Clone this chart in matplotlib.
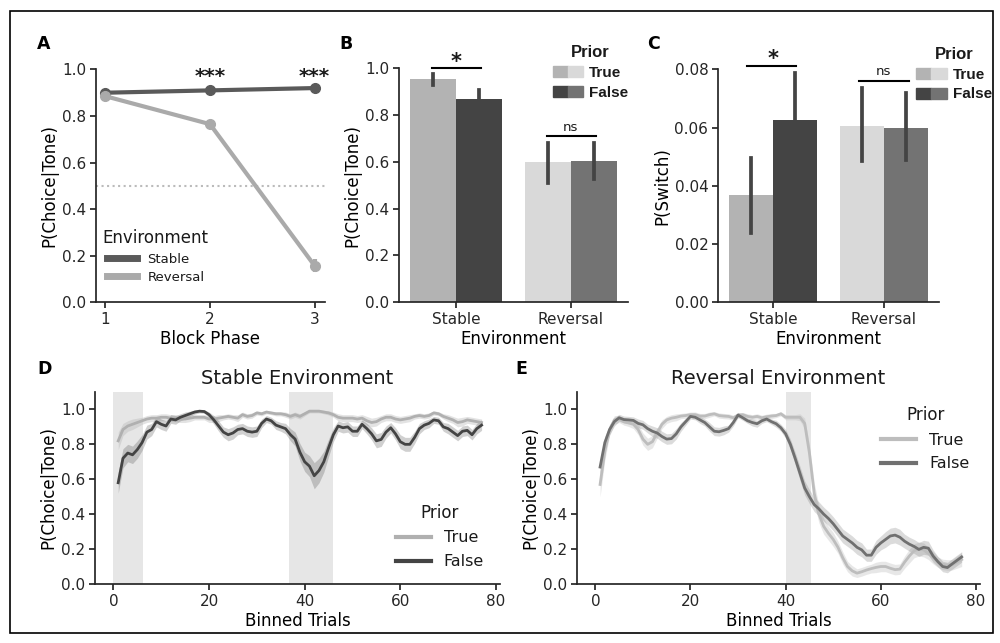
import numpy as np
import matplotlib
matplotlib.use("Agg")
import matplotlib.pyplot as plt
from matplotlib.patches import Patch, Rectangle
from matplotlib.lines import Line2D
from matplotlib.legend_handler import HandlerTuple

# ---------------- data ----------------
# panel A: choice accuracy by block phase
phases = [1, 2, 3]
stable_acc = [0.900, 0.910, 0.920]
stable_err = [0.008, 0.010, 0.008]
reversal_acc = [0.885, 0.765, 0.157]
reversal_err = [0.012, 0.015, 0.028]

# panel B / C: bars by environment and prior
envs = ["Stable", "Reversal"]
choice_true = [0.952, 0.600]
choice_true_ci = [(0.930, 0.975), (0.510, 0.680)]
choice_false = [0.867, 0.604]
choice_false_ci = [(0.830, 0.905), (0.525, 0.680)]
switch_true = [0.0368, 0.0604]
switch_true_ci = [(0.0238, 0.0497), (0.0485, 0.0735)]
switch_false = [0.0625, 0.0600]
switch_false_ci = [(0.0475, 0.0787), (0.0490, 0.0720)]

# panel D / E: binned trial curves
trials = np.arange(1, 78)
stable_true = [0.82, 0.885, 0.905, 0.915, 0.925, 0.935, 0.945, 0.95, 0.95, 0.955,
               0.955, 0.95, 0.95, 0.945, 0.945, 0.95, 0.955, 0.955, 0.955, 0.945,
               0.945, 0.95, 0.955, 0.96, 0.955, 0.95, 0.97, 0.96, 0.965, 0.98,
               0.975, 0.985, 0.98, 0.975, 0.975, 0.97, 0.96, 0.97, 0.96, 0.975,
               0.99, 0.99, 0.99, 0.985, 0.98, 0.97, 0.955, 0.95, 0.95, 0.95,
               0.945, 0.95, 0.935, 0.925, 0.93, 0.945, 0.955, 0.955, 0.945, 0.94,
               0.945, 0.95, 0.96, 0.965, 0.96, 0.965, 0.98, 0.975, 0.96, 0.95,
               0.94, 0.925, 0.93, 0.94, 0.935, 0.93, 0.925]
stable_true_ci = [0.05, 0.035, 0.03, 0.03, 0.025, 0.02, 0.02, 0.02, 0.02, 0.02,
                  0.02, 0.02, 0.02, 0.02, 0.02, 0.02, 0.015, 0.015, 0.015, 0.02,
                  0.02, 0.02, 0.015, 0.015, 0.015, 0.02, 0.015, 0.015, 0.015, 0.012,
                  0.012, 0.01, 0.01, 0.012, 0.012, 0.015, 0.015, 0.015, 0.015, 0.012,
                  0.01, 0.01, 0.01, 0.01, 0.012, 0.015, 0.02, 0.02, 0.02, 0.02,
                  0.02, 0.02, 0.025, 0.025, 0.025, 0.02, 0.02, 0.02, 0.02, 0.02,
                  0.02, 0.02, 0.015, 0.015, 0.015, 0.015, 0.012, 0.012, 0.015, 0.02,
                  0.02, 0.025, 0.025, 0.02, 0.02, 0.02, 0.02]
stable_false = [0.58, 0.72, 0.75, 0.74, 0.77, 0.81, 0.87, 0.885, 0.93, 0.915,
                0.905, 0.945, 0.94, 0.955, 0.965, 0.975, 0.985, 0.99, 0.988, 0.97,
                0.94, 0.905, 0.87, 0.855, 0.865, 0.885, 0.89, 0.875, 0.87, 0.875,
                0.92, 0.945, 0.935, 0.91, 0.90, 0.89, 0.856, 0.83, 0.755, 0.70,
                0.675, 0.62, 0.65, 0.70, 0.78, 0.855, 0.905, 0.895, 0.90, 0.875,
                0.875, 0.915, 0.89, 0.86, 0.82, 0.828, 0.87, 0.895, 0.86, 0.815,
                0.80, 0.80, 0.84, 0.89, 0.91, 0.92, 0.94, 0.935, 0.90, 0.89,
                0.87, 0.85, 0.875, 0.88, 0.855, 0.89, 0.91]
stable_false_ci = [0.06, 0.055, 0.05, 0.05, 0.05, 0.045, 0.04, 0.035, 0.03, 0.03,
                   0.03, 0.025, 0.025, 0.02, 0.02, 0.015, 0.012, 0.01, 0.01, 0.015,
                   0.025, 0.03, 0.03, 0.035, 0.035, 0.03, 0.03, 0.03, 0.03, 0.03,
                   0.025, 0.02, 0.02, 0.025, 0.025, 0.03, 0.035, 0.04, 0.05, 0.055,
                   0.06, 0.075, 0.07, 0.06, 0.05, 0.04, 0.03, 0.03, 0.03, 0.03,
                   0.03, 0.025, 0.03, 0.035, 0.04, 0.04, 0.035, 0.03, 0.035, 0.04,
                   0.04, 0.04, 0.035, 0.03, 0.025, 0.025, 0.02, 0.02, 0.025, 0.03,
                   0.03, 0.03, 0.03, 0.03, 0.03, 0.03, 0.03]
reversal_true = [0.57, 0.76, 0.88, 0.94, 0.945, 0.93, 0.922, 0.915, 0.885, 0.83,
                 0.80, 0.815, 0.865, 0.915, 0.94, 0.95, 0.955, 0.962, 0.965, 0.97,
                 0.97, 0.962, 0.962, 0.97, 0.975, 0.965, 0.962, 0.96, 0.952, 0.967,
                 0.97, 0.96, 0.955, 0.96, 0.952, 0.958, 0.962, 0.965, 0.975, 0.955,
                 0.955, 0.955, 0.955, 0.92, 0.75, 0.52, 0.40, 0.33, 0.29, 0.255,
                 0.21, 0.15, 0.10, 0.075, 0.062, 0.07, 0.08, 0.088, 0.095, 0.10,
                 0.10, 0.09, 0.082, 0.085, 0.125, 0.16, 0.19, 0.20, 0.195, 0.175,
                 0.15, 0.125, 0.112, 0.109, 0.11, 0.125, 0.14]
reversal_true_ci = [0.07, 0.05, 0.03, 0.025, 0.02, 0.02, 0.02, 0.025, 0.03, 0.035,
                    0.035, 0.035, 0.03, 0.025, 0.02, 0.02, 0.02, 0.015, 0.015, 0.015,
                    0.015, 0.015, 0.015, 0.015, 0.012, 0.015, 0.015, 0.015, 0.015, 0.015,
                    0.012, 0.015, 0.015, 0.015, 0.015, 0.015, 0.015, 0.012, 0.012, 0.015,
                    0.015, 0.015, 0.02, 0.03, 0.05, 0.06, 0.05, 0.045, 0.04, 0.04,
                    0.035, 0.035, 0.03, 0.03, 0.025, 0.025, 0.025, 0.025, 0.03, 0.03,
                    0.03, 0.03, 0.03, 0.03, 0.035, 0.04, 0.04, 0.04, 0.04, 0.035,
                    0.035, 0.03, 0.03, 0.03, 0.03, 0.035, 0.04]
reversal_false = [0.67, 0.81, 0.885, 0.93, 0.952, 0.942, 0.94, 0.937, 0.92, 0.912,
                  0.89, 0.875, 0.865, 0.845, 0.83, 0.833, 0.86, 0.90, 0.93, 0.96,
                  0.955, 0.94, 0.925, 0.90, 0.875, 0.872, 0.88, 0.89, 0.925, 0.968,
                  0.952, 0.935, 0.925, 0.918, 0.935, 0.945, 0.93, 0.918, 0.895, 0.86,
                  0.80, 0.72, 0.635, 0.55, 0.50, 0.455, 0.43, 0.40, 0.375, 0.345,
                  0.31, 0.275, 0.255, 0.235, 0.21, 0.195, 0.165, 0.165, 0.21, 0.235,
                  0.255, 0.275, 0.28, 0.268, 0.245, 0.228, 0.215, 0.198, 0.21, 0.205,
                  0.16, 0.128, 0.10, 0.094, 0.115, 0.135, 0.155]
reversal_false_ci = [0.04, 0.035, 0.03, 0.025, 0.02, 0.02, 0.02, 0.02, 0.025, 0.025,
                     0.025, 0.03, 0.03, 0.03, 0.03, 0.03, 0.03, 0.025, 0.02, 0.015,
                     0.015, 0.02, 0.02, 0.025, 0.025, 0.025, 0.025, 0.02, 0.02, 0.015,
                     0.015, 0.015, 0.02, 0.02, 0.015, 0.015, 0.015, 0.02, 0.02, 0.025,
                     0.03, 0.035, 0.04, 0.04, 0.04, 0.04, 0.04, 0.04, 0.04, 0.04,
                     0.04, 0.04, 0.04, 0.04, 0.04, 0.04, 0.035, 0.035, 0.04, 0.04,
                     0.045, 0.045, 0.045, 0.045, 0.04, 0.04, 0.04, 0.04, 0.04, 0.04,
                     0.035, 0.03, 0.03, 0.03, 0.03, 0.03, 0.03]
stable_spans = [(0, 6.2), (36.7, 46.0)]
reversal_spans = [(40.0, 45.3)]

# ---------------- style ----------------
plt.rcParams.update({
    "font.family": "DejaVu Sans",
    "axes.linewidth": 1.25,
    "xtick.major.width": 1.25,
    "ytick.major.width": 1.25,
    "xtick.major.size": 4.5,
    "ytick.major.size": 4.5,
    "xtick.major.pad": 2.5,
    "ytick.major.pad": 2.5,
    "xtick.labelsize": 11,
    "ytick.labelsize": 11,
    "axes.labelsize": 12,
    "axes.labelpad": 2.5,
    "axes.edgecolor": "#262626",
    "text.color": "#1a1a1a",
    "xtick.color": "#262626",
    "ytick.color": "#262626",
})

C_ST = "#b3b3b3"
C_SF = "#444444"
C_RT = "#d9d9d9"
C_RF = "#737373"
ERR = "#444444"
SPAN = "#e6e6e6"
leg_text = {"family": ["Liberation Sans", "DejaVu Sans"], "weight": "bold", "size": 11}
leg_title = {"family": ["Liberation Sans", "DejaVu Sans"], "weight": "bold", "size": 12}

fig = plt.figure(figsize=(10, 6.43), dpi=100)
fig.patches.append(Rectangle((0.010, 0.016), 0.983, 0.967, transform=fig.transFigure,
                             fill=False, edgecolor="black", linewidth=1.2))

axA = fig.add_axes([0.096, 0.530, 0.229, 0.362])
axB = fig.add_axes([0.399, 0.530, 0.229, 0.364])
axC = fig.add_axes([0.718, 0.530, 0.221, 0.362])
axD = fig.add_axes([0.095, 0.0918, 0.405, 0.2986])
axE = fig.add_axes([0.577, 0.0918, 0.403, 0.2986])

for ax in (axA, axB, axC, axD, axE):
    ax.spines["top"].set_visible(False)
    ax.spines["right"].set_visible(False)

# ---- A ----
axA.axhline(0.5, color="#bbbbbb", linestyle=":", linewidth=1.5)
axA.errorbar(phases, stable_acc, yerr=stable_err, color="#5a5a5a", marker="o", ms=7,
             lw=3, elinewidth=3, capsize=0)
axA.errorbar(phases, reversal_acc, yerr=reversal_err, color="#aaaaaa", marker="o", ms=7,
             lw=3, elinewidth=3, capsize=0)
for x in (2, 3):
    axA.text(x, 0.93, "***", ha="center", va="bottom", fontsize=14.5, fontweight="bold",
             clip_on=False)
axA.set_xlim(0.91, 3.1)
axA.set_ylim(0, 1.0)
axA.set_xticks(phases)
axA.set_yticks([0, 0.2, 0.4, 0.6, 0.8, 1.0])
axA.set_xlabel("Block Phase")
axA.set_ylabel("P(Choice|Tone)")
axA.legend([Line2D([], [], color="#5a5a5a", lw=5), Line2D([], [], color="#aaaaaa", lw=5)],
           ["Stable", "Reversal"], title="Environment", loc="lower left",
           bbox_to_anchor=(0.0, 0.05), frameon=False, fontsize=9.5,
           title_fontsize=12, handlelength=2.3, borderpad=0, labelspacing=0.4)


# ---- B & C bars ----
def bars(ax, tv, tci, fv, fci):
    xs = np.arange(len(envs))
    w = 0.4
    for i in xs:
        ct = C_ST if i == 0 else C_RT
        cf = C_SF if i == 0 else C_RF
        ax.bar(i - w / 2, tv[i], width=w, color=ct)
        ax.bar(i + w / 2, fv[i], width=w, color=cf)
        ax.plot([i - w / 2] * 2, tci[i], color=ERR, lw=2.7)
        ax.plot([i + w / 2] * 2, fci[i], color=ERR, lw=2.7)
    ax.set_xlim(-0.5, 1.5)
    ax.set_xticks(xs)
    ax.set_xticklabels(envs)
    ax.set_xlabel("Environment")
    handles = [(Patch(color=C_ST), Patch(color=C_RT)), (Patch(color=C_SF), Patch(color=C_RF))]
    return handles


def prior_legend(ax, handles, x):
    ax.legend(handles, ["True", "False"], handler_map={tuple: HandlerTuple(ndivide=None, pad=0)},
              title="Prior", prop=leg_text, title_fontproperties=leg_title, frameon=False,
              loc="upper left", bbox_to_anchor=(x, 1.13), borderpad=0,
              handlelength=2.0, handleheight=0.72, labelspacing=0.38, handletextpad=0.4)


hB = bars(axB, choice_true, choice_true_ci, choice_false, choice_false_ci)
axB.set_ylim(0, 1.0)
axB.set_yticks([0, 0.2, 0.4, 0.6, 0.8, 1.0])
axB.set_ylabel("P(Choice|Tone)")
axB.plot([-0.21, 0.22], [1.0, 1.0], color="black", lw=1.5, clip_on=False)
axB.text(0.0, 0.985, "*", ha="center", va="bottom", fontsize=15, fontweight="bold")
axB.plot([0.79, 1.22], [0.712, 0.712], color="black", lw=1.5)
axB.text(1.0, 0.72, "ns", ha="center", va="bottom", fontsize=9.5)
prior_legend(axB, hB, 0.637)

hC = bars(axC, switch_true, switch_true_ci, switch_false, switch_false_ci)
axC.set_ylim(0, 0.08)
axC.set_yticks([0, 0.02, 0.04, 0.06, 0.08])
axC.set_yticklabels(["0.00", "0.02", "0.04", "0.06", "0.08"])
axC.set_ylabel("P(Switch)")
axC.plot([-0.235, 0.21], [0.0811, 0.0811], color="black", lw=1.5, clip_on=False)
axC.text(0.0, 0.0801, "*", ha="center", va="bottom", fontsize=15, fontweight="bold")
axC.plot([0.78, 1.23], [0.0762, 0.0762], color="black", lw=1.5)
axC.text(1.0, 0.0772, "ns", ha="center", va="bottom", fontsize=9.5)
prior_legend(axC, hC, 0.862)


# ---- D & E curves ----
def curves(ax, spans, tv, tci, fv, fci, ct, cf, title):
    for a, b in spans:
        ax.axvspan(a, b, color=SPAN, lw=0, zorder=0)
    tv, tci, fv, fci = map(np.asarray, (tv, tci, fv, fci))
    ax.fill_between(trials, tv - tci, tv + tci, color=ct, alpha=0.35, lw=0)
    ax.fill_between(trials, fv - fci, fv + fci, color=cf, alpha=0.25, lw=0)
    ax.plot(trials, tv, color=ct, lw=2, label="True")
    ax.plot(trials, fv, color=cf, lw=2, label="False")
    ax.set_ylim(0, 1.1)
    ax.set_xlim(-3.85, 80.85)
    ax.set_xticks([0, 20, 40, 60, 80])
    ax.set_yticks([0, 0.2, 0.4, 0.6, 0.8, 1.0])
    ax.set_xlabel("Binned Trials")
    ax.set_ylabel("P(Choice|Tone)")
    ax.set_title(title, fontsize=14)


curves(axD, stable_spans, stable_true, stable_true_ci, stable_false, stable_false_ci,
       "#b0b0b0", "#444444", "Stable Environment")
axD.legend(handles=[Line2D([], [], color="#b0b0b0", lw=3), Line2D([], [], color="#444444", lw=3)],
           labels=["True", "False"], title="Prior", frameon=False, fontsize=11.5,
           title_fontsize=12, loc="lower right", bbox_to_anchor=(0.98, 0.035), borderpad=0,
           handlelength=2.2, labelspacing=0.55)

curves(axE, reversal_spans, reversal_true, reversal_true_ci, reversal_false, reversal_false_ci,
       "#bdbdbd", "#707070", "Reversal Environment")
axE.legend(handles=[Line2D([], [], color="#bdbdbd", lw=3), Line2D([], [], color="#707070", lw=3)],
           labels=["True", "False"], title="Prior", frameon=False, fontsize=11.5,
           title_fontsize=12, loc="upper left", bbox_to_anchor=(0.735, 0.97), borderpad=0,
           handlelength=2.2, labelspacing=0.55)

# panel letters
for x, y, s in [(0.037, 0.924, "A"), (0.339, 0.924, "B"), (0.647, 0.924, "C"),
                (0.037, 0.418, "D"), (0.515, 0.418, "E")]:
    fig.text(x, y, s, fontsize=12.5, fontweight="bold", color="black")

fig.savefig("out.png", dpi=100)
